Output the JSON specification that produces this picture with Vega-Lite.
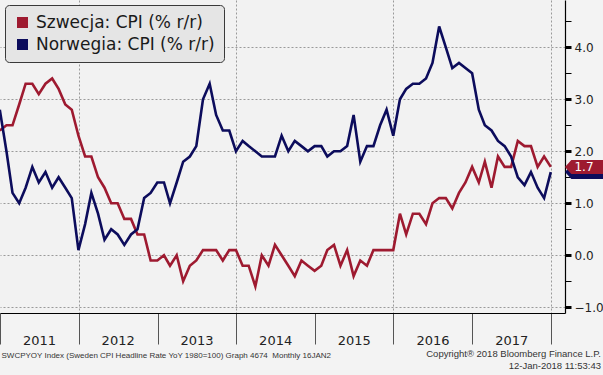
{
  "$schema": "https://vega.github.io/schema/vega-lite/v6.json",
  "width": 565,
  "height": 313,
  "autosize": {"type": "none"},
  "padding": {"left": 0, "top": 0, "right": 38, "bottom": 62},
  "background": "#f3f3f3",
  "config": {
    "font": "DejaVu Sans",
    "view": {"stroke": null, "fill": "#f2f2f2"}
  },
  "title": {
    "text": "Copyright® 2018 Bloomberg Finance L.P.",
    "subtitle": "12-Jan-2018 11:53:43",
    "orient": "bottom",
    "anchor": "end",
    "frame": "group",
    "dx": 36,
    "offset": -10,
    "font": "Liberation Sans",
    "subtitleFont": "Liberation Sans",
    "fontSize": 9.5,
    "subtitleFontSize": 9.5,
    "fontWeight": "normal",
    "color": "#333333",
    "subtitleColor": "#333333",
    "subtitlePadding": 2
  },
  "data": {
    "values": [
      {"d": "2010-12-31", "se": 2.4, "no": 2.8},
      {"d": "2011-01-31", "se": 2.5, "no": 2.0},
      {"d": "2011-02-28", "se": 2.5, "no": 1.2},
      {"d": "2011-03-31", "se": 2.9, "no": 1.0},
      {"d": "2011-04-30", "se": 3.3, "no": 1.3},
      {"d": "2011-05-31", "se": 3.3, "no": 1.7},
      {"d": "2011-06-30", "se": 3.1, "no": 1.4},
      {"d": "2011-07-31", "se": 3.3, "no": 1.6},
      {"d": "2011-08-31", "se": 3.4, "no": 1.3},
      {"d": "2011-09-30", "se": 3.2, "no": 1.5},
      {"d": "2011-10-31", "se": 2.9, "no": 1.3},
      {"d": "2011-11-30", "se": 2.8, "no": 1.1},
      {"d": "2011-12-31", "se": 2.3, "no": 0.1},
      {"d": "2012-01-31", "se": 1.9, "no": 0.6},
      {"d": "2012-02-29", "se": 1.9, "no": 1.2},
      {"d": "2012-03-31", "se": 1.5, "no": 0.8},
      {"d": "2012-04-30", "se": 1.3, "no": 0.3},
      {"d": "2012-05-31", "se": 1.0, "no": 0.5},
      {"d": "2012-06-30", "se": 1.0, "no": 0.4},
      {"d": "2012-07-31", "se": 0.7, "no": 0.2},
      {"d": "2012-08-31", "se": 0.7, "no": 0.4},
      {"d": "2012-09-30", "se": 0.4, "no": 0.5},
      {"d": "2012-10-31", "se": 0.4, "no": 1.1},
      {"d": "2012-11-30", "se": -0.1, "no": 1.2},
      {"d": "2012-12-31", "se": -0.1, "no": 1.4},
      {"d": "2013-01-31", "se": 0.0, "no": 1.4},
      {"d": "2013-02-28", "se": -0.2, "no": 1.0},
      {"d": "2013-03-31", "se": 0.0, "no": 1.4},
      {"d": "2013-04-30", "se": -0.5, "no": 1.8},
      {"d": "2013-05-31", "se": -0.2, "no": 1.9},
      {"d": "2013-06-30", "se": -0.1, "no": 2.1},
      {"d": "2013-07-31", "se": 0.1, "no": 3.0},
      {"d": "2013-08-31", "se": 0.1, "no": 3.3},
      {"d": "2013-09-30", "se": 0.1, "no": 2.7},
      {"d": "2013-10-31", "se": -0.1, "no": 2.4},
      {"d": "2013-11-30", "se": 0.1, "no": 2.4},
      {"d": "2013-12-31", "se": 0.1, "no": 2.0},
      {"d": "2014-01-31", "se": -0.2, "no": 2.2},
      {"d": "2014-02-28", "se": -0.2, "no": 2.1},
      {"d": "2014-03-31", "se": -0.6, "no": 2.0},
      {"d": "2014-04-30", "se": 0.0, "no": 1.9},
      {"d": "2014-05-31", "se": -0.2, "no": 1.9},
      {"d": "2014-06-30", "se": 0.2, "no": 1.9},
      {"d": "2014-07-31", "se": 0.0, "no": 2.3},
      {"d": "2014-08-31", "se": -0.2, "no": 2.0},
      {"d": "2014-09-30", "se": -0.4, "no": 2.2},
      {"d": "2014-10-31", "se": -0.1, "no": 2.1},
      {"d": "2014-11-30", "se": -0.2, "no": 2.0},
      {"d": "2014-12-31", "se": -0.3, "no": 2.1},
      {"d": "2015-01-31", "se": -0.2, "no": 2.1},
      {"d": "2015-02-28", "se": 0.1, "no": 1.9},
      {"d": "2015-03-31", "se": 0.2, "no": 2.0},
      {"d": "2015-04-30", "se": -0.2, "no": 2.0},
      {"d": "2015-05-31", "se": 0.1, "no": 2.1},
      {"d": "2015-06-30", "se": -0.4, "no": 2.7},
      {"d": "2015-07-31", "se": -0.1, "no": 1.8},
      {"d": "2015-08-31", "se": -0.2, "no": 2.1},
      {"d": "2015-09-30", "se": 0.1, "no": 2.1},
      {"d": "2015-10-31", "se": 0.1, "no": 2.5},
      {"d": "2015-11-30", "se": 0.1, "no": 2.8},
      {"d": "2015-12-31", "se": 0.1, "no": 2.3},
      {"d": "2016-01-31", "se": 0.8, "no": 3.0},
      {"d": "2016-02-29", "se": 0.4, "no": 3.2},
      {"d": "2016-03-31", "se": 0.8, "no": 3.3},
      {"d": "2016-04-30", "se": 0.8, "no": 3.3},
      {"d": "2016-05-31", "se": 0.6, "no": 3.4},
      {"d": "2016-06-30", "se": 1.0, "no": 3.7},
      {"d": "2016-07-31", "se": 1.1, "no": 4.4},
      {"d": "2016-08-31", "se": 1.1, "no": 4.0},
      {"d": "2016-09-30", "se": 0.9, "no": 3.6},
      {"d": "2016-10-31", "se": 1.2, "no": 3.7},
      {"d": "2016-11-30", "se": 1.4, "no": 3.6},
      {"d": "2016-12-31", "se": 1.7, "no": 3.5},
      {"d": "2017-01-31", "se": 1.4, "no": 2.8},
      {"d": "2017-02-28", "se": 1.8, "no": 2.5},
      {"d": "2017-03-31", "se": 1.3, "no": 2.4},
      {"d": "2017-04-30", "se": 1.9, "no": 2.2},
      {"d": "2017-05-31", "se": 1.7, "no": 2.1},
      {"d": "2017-06-30", "se": 1.7, "no": 1.9},
      {"d": "2017-07-31", "se": 2.2, "no": 1.5},
      {"d": "2017-08-31", "se": 2.1, "no": 1.35},
      {"d": "2017-09-30", "se": 2.1, "no": 1.6},
      {"d": "2017-10-31", "se": 1.7, "no": 1.3},
      {"d": "2017-11-30", "se": 1.9, "no": 1.1},
      {"d": "2017-12-31", "se": 1.7, "no": 1.6}
    ]
  },
  "transform": [{"fold": ["se", "no"], "as": ["key", "value"]}],
  "encoding": {
    "y": {
      "field": "value",
      "type": "quantitative",
      "scale": {"domain": [-1.11, 4.91], "nice": false, "zero": false},
      "axis": {
        "orient": "right",
        "title": null,
        "values": [-1, -0.5, 0, 0.5, 1, 1.5, 2, 2.5, 3, 3.5, 4, 4.5],
        "labelExpr": "abs(datum.value % 1) < 0.01 ? format(datum.value, '.1f') : ''",
        "labelFont": "DejaVu Sans",
        "labelFontSize": 12,
        "labelColor": "#222222",
        "labelPadding": 3,
        "labelBaseline": "middle",
        "labelOverlap": false,
        "labelBound": false,
        "labelFlush": false,
        "tickSize": 6,
        "tickColor": "#000000",
        "tickWidth": {"condition": {"test": "abs(datum.value % 1) < 0.01", "value": 3}, "value": 1},
        "domainColor": "#000000",
        "domainWidth": 1.2,
        "grid": true,
        "gridColor": "#9a9a9a",
        "gridDash": [2, 2],
        "gridWidth": 1,
        "gridOpacity": {"condition": {"test": "abs(datum.value % 1) < 0.01", "value": 1}, "value": 0}
      }
    }
  },
  "layer": [
    {
      "mark": {"type": "line", "strokeWidth": 2.6, "clip": true},
      "encoding": {
        "x": {
          "field": "d",
          "type": "temporal",
          "scale": {
            "type": "utc",
            "domain": [
              {"year": 2011, "month": 1, "date": 1, "utc": true},
              {"year": 2018, "month": 3, "date": 7, "utc": true}
            ]
          },
          "axis": {
            "values": [
              {"year": 2011, "month": 1, "date": 1, "utc": true},
              {"year": 2012, "month": 1, "date": 1, "utc": true},
              {"year": 2013, "month": 1, "date": 1, "utc": true},
              {"year": 2014, "month": 1, "date": 1, "utc": true},
              {"year": 2015, "month": 1, "date": 1, "utc": true},
              {"year": 2016, "month": 1, "date": 1, "utc": true},
              {"year": 2017, "month": 1, "date": 1, "utc": true},
              {"year": 2018, "month": 1, "date": 1, "utc": true}
            ],
            "labelExpr": "utcyear(datum.value) >= 2018 ? '' : utcFormat(datum.value, '%Y')",
            "labelOffset": 39,
            "labelPadding": -4,
            "labelBaseline": "middle",
            "labelFont": "DejaVu Sans",
            "labelFontSize": 13,
            "labelColor": "#222222",
            "labelOverlap": false,
            "labelFlush": false,
            "labelBound": false,
            "tickSize": 31,
            "tickColor": "#555555",
            "tickWidth": 1,
            "domainColor": "#000000",
            "domainWidth": 1.2,
            "grid": true,
            "gridColor": "#9a9a9a",
            "gridDash": [2, 2],
            "gridWidth": 1,
            "gridOpacity": {"condition": {"test": "utcyear(datum.value) % 2 == 0", "value": 1}, "value": 0},
            "title": "SWCPYOY Index (Sweden CPI Headline Rate YoY 1980=100) Graph 4674\u00a0 Monthly 16JAN2",
            "titleFont": "Liberation Sans",
            "titleFontSize": 8,
            "titleFontWeight": "normal",
            "titleColor": "#333333",
            "titleAnchor": "start",
            "titleAlign": "left",
            "titleBaseline": "middle",
            "titleX": 1,
            "titleY": 42
          }
        },
        "color": {
          "field": "key",
          "type": "nominal",
          "scale": {"domain": ["se", "no"], "range": ["#9e1a30", "#0c0c5c"]},
          "legend": {
            "title": null,
            "orient": "top-left",
            "offset": 5,
            "fillColor": "#e5e5e5",
            "strokeColor": "#3a3a3a",
            "cornerRadius": 4,
            "padding": 9,
            "labelFont": "DejaVu Sans",
            "labelFontSize": 17,
            "labelColor": "#1a1a1a",
            "labelLimit": 0,
            "labelOffset": 5,
            "symbolType": "square",
            "symbolSize": 121,
            "rowPadding": 4,
            "labelExpr": "datum.label == 'se' ? 'Szwecja: CPI (% r/r)' : 'Norwegia: CPI (% r/r)'",
            "encode": {
              "symbols": {
                "update": {
                  "fill": {"scale": "color", "field": "value"},
                  "stroke": {"value": "transparent"},
                  "strokeWidth": {"value": 0},
                  "opacity": {"value": 1}
                }
              }
            }
          }
        }
      }
    },
    {
      "transform": [
        {"aggregate": [{"op": "argmax", "field": "d", "as": "last"}], "groupby": ["key"]}
      ],
      "mark": {
        "type": "point",
        "shape": "M0,0L0.9,-1L5.6,-1L5.6,1L0.9,1Z",
        "size": 196,
        "filled": true,
        "opacity": 1,
        "strokeWidth": 0
      },
      "encoding": {
        "x": {"value": "width"},
        "y": {"field": "last.value", "type": "quantitative"},
        "color": {"field": "key", "type": "nominal"},
        "order": {"field": "key", "sort": "ascending"}
      }
    },
    {
      "transform": [
        {"aggregate": [{"op": "argmax", "field": "d", "as": "last"}], "groupby": ["key"]},
        {"filter": "datum.key == 'se'"}
      ],
      "mark": {
        "type": "text",
        "dx": 19,
        "color": "#ffffff",
        "font": "DejaVu Sans",
        "fontSize": 12,
        "align": "center",
        "baseline": "middle"
      },
      "encoding": {
        "x": {"value": "width"},
        "y": {"field": "last.value", "type": "quantitative"},
        "text": {"field": "last.value", "type": "quantitative", "format": ".1f"}
      }
    }
  ]
}
